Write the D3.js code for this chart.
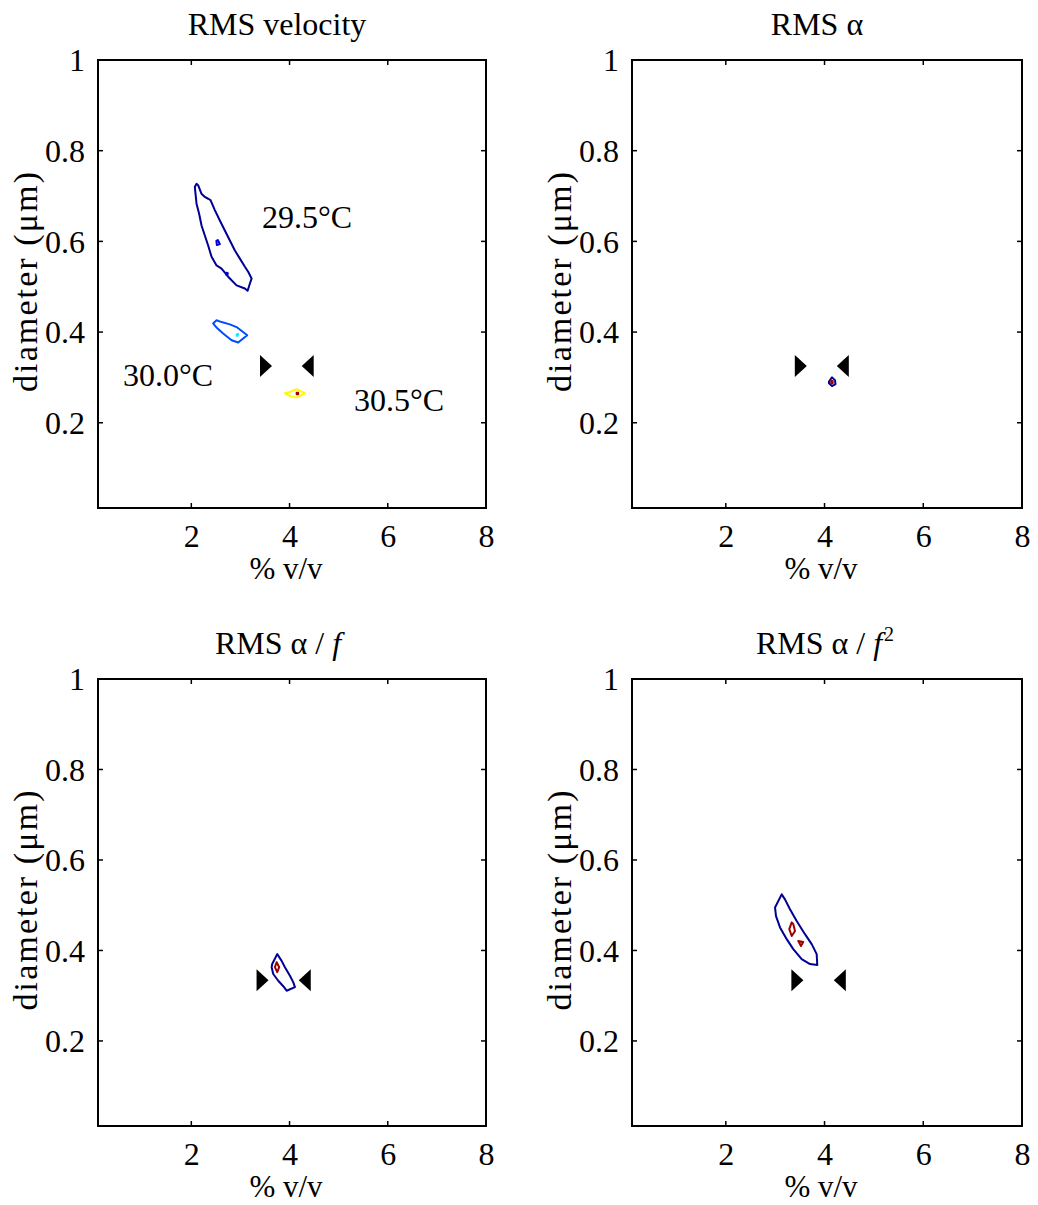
<!DOCTYPE html>
<html>
<head>
<meta charset="utf-8">
<script src="https://cdn.jsdelivr.net/npm/d3@7"></script>
<style>
  html, body { margin: 0; padding: 0; background: #fff; }
  svg text { font-family: "Liberation Serif", "Times New Roman", "DejaVu Serif", serif; fill: #000; }
</style>
</head>
<body>
<svg id="fig" width="1038" height="1205"></svg>
<script>
// ---- axes ----
const xDomain = [0.1, 8];
const yDomain = [0.012, 1];
const xTicks = [2, 4, 6, 8];
const yTicks = [0.2, 0.4, 0.6, 0.8, 1];
const xLabel = "% v/v";
const yLabel = "diameter (\u03bcm)";

// ---- contour lines, [%v/v, diameter] ; level in 0..1 on the jet scale ----
const velocityContours = [
  { level: 0.02, pts: [[2.106,0.727],[2.071,0.720],[2.092,0.698],[2.106,0.683],[2.159,0.661],[2.208,0.635],[2.275,0.613],[2.343,0.591],[2.412,0.566],[2.514,0.547],[2.616,0.540],[2.750,0.522],[2.922,0.503],[3.091,0.496],[3.146,0.491],[3.193,0.507],[3.227,0.518],[3.158,0.533],[3.091,0.544],[2.989,0.562],[2.887,0.580],[2.785,0.602],[2.683,0.624],[2.581,0.646],[2.479,0.669],[2.391,0.691],[2.343,0.694],[2.275,0.698],[2.208,0.705],[2.139,0.724]] },
  { level: 0.08, pts: [[2.510,0.601],[2.540,0.603],[2.581,0.594],[2.520,0.592]] },
  { level: 0.08, pts: [[2.714,0.531],[2.744,0.530],[2.734,0.525],[2.714,0.526]] },
  { level: 0.20, pts: [[2.444,0.419],[2.514,0.426],[2.616,0.422],[2.785,0.417],[2.922,0.411],[3.138,0.393],[2.954,0.377],[2.820,0.382],[2.648,0.397],[2.514,0.410]] },
  { level: 0.36, pts: [[2.925,0.395],[2.950,0.396],[2.945,0.392],[2.925,0.392]] },
  { level: 0.63, pts: [[3.906,0.265],[4.008,0.268],[4.145,0.274],[4.314,0.265],[4.145,0.256],[4.008,0.259]] },
  { level: 0.97, pts: [[4.145,0.266],[4.175,0.266],[4.175,0.263],[4.145,0.263]] }
];
const alphaContours = [
  { level: 0.02, pts: [[4.090,0.291],[4.151,0.300],[4.212,0.294],[4.222,0.285],[4.151,0.281],[4.090,0.287]] },
  { level: 0.97, pts: [[4.135,0.292],[4.165,0.292],[4.165,0.287],[4.135,0.287]] }
];
const alphaFContours = [
  { level: 0.02, pts: [[3.749,0.392],[3.647,0.370],[3.635,0.363],[3.668,0.348],[3.770,0.333],[3.872,0.321],[3.941,0.311],[4.110,0.319],[4.075,0.330],[4.008,0.344],[3.906,0.363],[3.839,0.377]] },
  { level: 0.97, pts: [[3.737,0.374],[3.702,0.363],[3.749,0.352],[3.790,0.363]] }
];
const alphaF2Contours = [
  { level: 0.02, pts: [[3.132,0.524],[2.997,0.495],[3.017,0.476],[3.098,0.451],[3.234,0.425],[3.367,0.403],[3.537,0.381],[3.706,0.370],[3.853,0.368],[3.841,0.392],[3.740,0.414],[3.604,0.436],[3.436,0.465],[3.300,0.491],[3.199,0.513]] },
  { level: 0.97, pts: [[3.335,0.462],[3.286,0.447],[3.335,0.432],[3.402,0.443],[3.367,0.458]] },
  { level: 0.97, pts: [[3.469,0.421],[3.570,0.419],[3.523,0.410]] }
];

// ---- reference markers: [lower bound, upper bound] in %v/v at one diameter ----
const markerX = [[3.52, 4.37], [3.52, 4.37], [3.45, 4.31], [3.45, 4.31]];
const markerY = [0.325, 0.325, 0.334, 0.334];

// ---- temperature labels in the first panel ----
const tempLabels = ["29.5\u00b0C", "30.0\u00b0C", "30.5\u00b0C"];
const tempLabelPos = [[3.44, 0.653], [0.61, 0.306], [5.31, 0.251]];

// ---- panel titles ----
const titles = ["RMS velocity", "RMS \u03b1", "RMS \u03b1 / f", "RMS \u03b1 / f2"];

// jet colour map
function jet(t) {
  const c = v => Math.round(255 * Math.max(0, Math.min(1, v)));
  const r = c(1.5 - Math.abs(4 * t - 3));
  const g = c(1.5 - Math.abs(4 * t - 2));
  const b = c(1.5 - Math.abs(4 * t - 1));
  return `rgb(${r},${g},${b})`;
}

const svg = d3.select("#fig");
svg.append("rect").attr("width", 1038).attr("height", 1205).attr("fill", "#fff");

// panel frames (pixels) and title centres
const boxes = [
  { x0: 98, x1: 486, y0: 60, y1: 508, tx: 277 },
  { x0: 632, x1: 1022, y0: 60, y1: 508, tx: 817 },
  { x0: 98, x1: 486, y0: 679, y1: 1126, tx: 278 },
  { x0: 632, x1: 1022, y0: 679, y1: 1126, tx: 825 }
];
const contourSets = [velocityContours, alphaContours, alphaFContours, alphaF2Contours];
const FONT = "Liberation Serif, Times New Roman, DejaVu Serif, serif";

boxes.forEach((b, i) => {
  const x = d3.scaleLinear().domain(xDomain).range([b.x0, b.x1]);
  const y = d3.scaleLinear().domain(yDomain).range([b.y1, b.y0]);
  const g = svg.append("g");

  const tl = 5;
  const axB = d3.axisBottom(x).tickValues(xTicks).tickSize(0).tickPadding(16).tickFormat(d3.format("d"));
  const axL = d3.axisLeft(y).tickValues(yTicks).tickSize(0).tickPadding(13).tickFormat(d => d === 1 ? "1" : d3.format(".1f")(d));
  const gb = g.append("g").attr("transform", `translate(0,${b.y1})`).call(axB);
  const gl = g.append("g").attr("transform", `translate(${b.x0},0)`).call(axL);
  [gb, gl].forEach(a => {
    a.attr("font-family", FONT);
    a.select(".domain").remove();
    a.selectAll("text").attr("font-size", 32).attr("font-family", FONT);
  });
  gb.selectAll("text").attr("dy", "0.71em");
  gl.selectAll("text").attr("dy", "0.34em");

  // ticks pointing inward on all four sides
  const tg = g.append("g").attr("stroke", "#000").attr("stroke-width", 1.5);
  xTicks.forEach(v => {
    tg.append("line").attr("x1", x(v)).attr("x2", x(v)).attr("y1", b.y1).attr("y2", b.y1 - tl);
    tg.append("line").attr("x1", x(v)).attr("x2", x(v)).attr("y1", b.y0).attr("y2", b.y0 + tl);
  });
  yTicks.forEach(v => {
    tg.append("line").attr("y1", y(v)).attr("y2", y(v)).attr("x1", b.x0).attr("x2", b.x0 + tl);
    tg.append("line").attr("y1", y(v)).attr("y2", y(v)).attr("x1", b.x1).attr("x2", b.x1 - tl);
  });

  // contour lines
  const line = d3.line().x(d => x(d[0])).y(d => y(d[1])).curve(d3.curveLinearClosed);
  g.append("g").selectAll("path").data(contourSets[i]).join("path")
    .attr("d", d => line(d.pts))
    .attr("fill", "none")
    .attr("stroke", d => jet(d.level))
    .attr("stroke-width", 2)
    .attr("stroke-linejoin", "round");

  // bound markers: right-pointing at the lower bound, left-pointing at the upper bound
  const mx = markerX[i], my = y(markerY[i]);
  const hw = 6, hh = 11;
  g.append("path")
    .attr("d", `M${x(mx[0]) - hw},${my - hh}L${x(mx[0]) + hw},${my}L${x(mx[0]) - hw},${my + hh}Z`)
    .attr("fill", "#000");
  g.append("path")
    .attr("d", `M${x(mx[1]) + hw},${my - hh}L${x(mx[1]) - hw},${my}L${x(mx[1]) + hw},${my + hh}Z`)
    .attr("fill", "#000");

  // frame
  g.append("rect").attr("x", b.x0).attr("y", b.y0)
    .attr("width", b.x1 - b.x0).attr("height", b.y1 - b.y0)
    .attr("fill", "none").attr("stroke", "#000").attr("stroke-width", 2);

  // axis labels
  g.append("text").attr("x", (b.x0 + b.x1) / 2 - 6).attr("y", b.y1 + 71)
    .attr("text-anchor", "middle").attr("font-size", 31).text(xLabel);
  g.append("text")
    .attr("transform", `translate(${b.x0 - 61},${(b.y0 + b.y1) / 2 - 2}) rotate(-90)`)
    .attr("text-anchor", "middle").attr("font-size", 34)
    .attr("textLength", 220).attr("lengthAdjust", "spacing")
    .text(yLabel);

  // title
  const t = g.append("text").attr("x", b.tx).attr("y", b.y0 - 25)
    .attr("text-anchor", "middle").attr("font-size", 32);
  if (i < 2) {
    t.text(titles[i]);
  } else {
    t.append("tspan").text("RMS \u03b1 / ");
    t.append("tspan").attr("font-style", "italic").text("f");
    if (i === 3) t.append("tspan").attr("font-size", 20).attr("dx", 2).attr("dy", -13).text("2");
  }

  if (i === 0) {
    g.append("g").selectAll("text").data(tempLabels).join("text")
      .attr("x", (d, k) => x(tempLabelPos[k][0]))
      .attr("y", (d, k) => y(tempLabelPos[k][1]))
      .attr("dy", "0.34em")
      .attr("font-size", 32)
      .text(d => d);
  }
});
</script>
</body>
</html>
